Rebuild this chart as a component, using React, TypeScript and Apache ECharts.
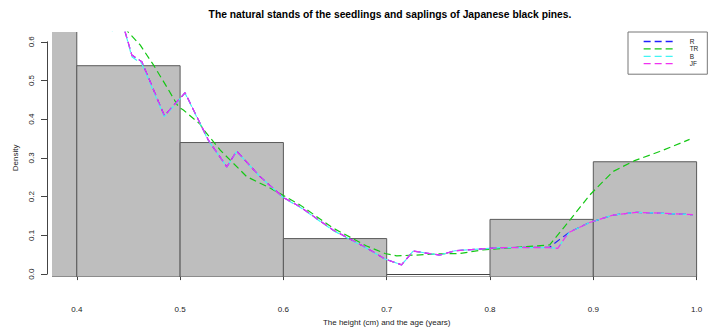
import React, { useEffect, useRef } from "react";
import * as echarts from "echarts";

const binEdges = [0.3, 0.4, 0.5, 0.6, 0.7, 0.8, 0.9, 1.0];
const binDensity = [8.58, 0.539, 0.343, 0.098, 0, 0.147, 0.294];

const xTicks = [0.4, 0.5, 0.6, 0.7, 0.8, 0.9, 1.0];
const yTicks = [0.0, 0.1, 0.2, 0.3, 0.4, 0.5, 0.6];

const jfX = [0.44, 0.4468, 0.4533, 0.4581, 0.463, 0.4848, 0.4871, 0.5048, 0.5274, 0.5452, 0.5548, 0.5774, 0.5999, 0.6161, 0.648, 0.6806, 0.6983, 0.7144, 0.7256, 0.7515, 0.766, 0.8095, 0.8578, 0.8656, 0.8723, 0.8773, 0.8965, 0.919, 0.9417, 0.9674, 0.9964];
const jfY = [0.68, 0.625, 0.566, 0.558, 0.549, 0.411, 0.418, 0.47, 0.349, 0.281, 0.321, 0.256, 0.203, 0.179, 0.12, 0.074, 0.046, 0.031, 0.066, 0.056, 0.067, 0.075, 0.075, 0.073, 0.099, 0.115, 0.139, 0.158, 0.165, 0.1625, 0.159];

const bX = [0.425, 0.434, 0.44, 0.4468, 0.4533, 0.458, 0.4628, 0.4846, 0.4871, 0.5048, 0.5274, 0.5452, 0.5548, 0.5774, 0.5999, 0.6161, 0.648, 0.6806, 0.6983, 0.7144, 0.7256, 0.7515, 0.766, 0.8095, 0.8578, 0.8656, 0.8723, 0.8773, 0.8965, 0.919, 0.9417, 0.9674, 0.9964];
const bY = [0.7, 0.623, 0.69, 0.625, 0.562, 0.553, 0.545, 0.409, 0.416, 0.469, 0.348, 0.281, 0.32, 0.256, 0.202, 0.178, 0.119, 0.073, 0.046, 0.031, 0.066, 0.056, 0.067, 0.075, 0.075, 0.073, 0.099, 0.115, 0.139, 0.158, 0.165, 0.1625, 0.159];

const rX = [0.44, 0.4468, 0.4533, 0.4581, 0.463, 0.4848, 0.4871, 0.5048, 0.5274, 0.5452, 0.5548, 0.5774, 0.5999, 0.6161, 0.648, 0.6806, 0.6983, 0.7144, 0.7256, 0.7515, 0.766, 0.8095, 0.8578, 0.8675, 0.8773, 0.8965, 0.919, 0.9417, 0.9674, 0.9964];
const rY = [0.68, 0.625, 0.566, 0.558, 0.549, 0.411, 0.418, 0.47, 0.349, 0.281, 0.321, 0.256, 0.203, 0.179, 0.12, 0.074, 0.046, 0.031, 0.066, 0.056, 0.067, 0.075, 0.076, 0.096, 0.115, 0.139, 0.158, 0.165, 0.1625, 0.159];

const trX = [0.44, 0.45, 0.4613, 0.4742, 0.4871, 0.4984, 0.5032, 0.5193, 0.5225, 0.5387, 0.5645, 0.587, 0.6044, 0.616, 0.648, 0.6806, 0.6983, 0.7096, 0.7289, 0.7515, 0.7708, 0.793, 0.8578, 0.8773, 0.8965, 0.919, 0.94, 0.9642, 0.9932];
const trY = [0.66, 0.624, 0.592, 0.541, 0.485, 0.434, 0.426, 0.39, 0.377, 0.324, 0.256, 0.227, 0.2015, 0.184, 0.125, 0.079, 0.06, 0.054, 0.056, 0.059, 0.06, 0.069, 0.082, 0.145, 0.209, 0.269, 0.297, 0.32, 0.351];

const seriesNames = ["R", "TR", "B", "JF"];
const seriesColors = ["#2020ff", "#14c814", "#40f4f4", "#f030f0"];

const FONT = "Liberation Sans, Arial, sans-serif";

function pairs(xs: number[], ys: number[]) {
  return xs.map((x, i) => [x, ys[i]]);
}

export default function App() {
  const ref = useRef<HTMLDivElement>(null);
  useEffect(() => {
    if (!ref.current) return;
    const chart = echarts.init(ref.current, undefined, { renderer: "svg" });
    const histData = binDensity.map((d, i) => [binEdges[i], binEdges[i + 1], d]);
    const lineData = [pairs(rX, rY), pairs(trX, trY), pairs(bX, bY), pairs(jfX, jfY)];

    chart.setOption({
      animation: false,
      backgroundColor: "#ffffff",
      textStyle: { fontFamily: FONT },
      title: {
        text: "The natural stands of the seedlings and saplings of Japanese black pines.",
        left: 385,
        top: 4,
        textAlign: "center",
        textStyle: { fontSize: 10.3, fontWeight: "bold", color: "#000", fontFamily: FONT },
      },
      legend: {
        orient: "vertical",
        left: 628,
        top: 32,
        padding: [6, 9, 7, 15],
        itemGap: 0.4,
        itemWidth: 30,
        itemHeight: 8,
        borderColor: "#777",
        borderWidth: 1,
        data: seriesNames,
        itemStyle: { color: "rgba(0,0,0,0)", borderWidth: 0, opacity: 0 },
        lineStyle: { width: 1.3 },
        textStyle: { fontSize: 6.5, color: "#222", padding: [0, 0, 0, 11], fontFamily: FONT },
      },
      grid: [
        { left: 52, right: 0, top: 32, bottom: 54 },
        { left: 76.8, right: 12.4, top: 41.8, bottom: 54 },
      ],
      xAxis: [
        { type: "value", gridIndex: 0, min: 0.376, max: 1.012, show: false },
        {
          type: "value",
          gridIndex: 1,
          min: 0.4,
          max: 1.0,
          interval: 0.1,
          offset: 14,
          axisLine: { show: true, lineStyle: { color: "#444", width: 1 } },
          axisTick: { show: true, length: 6, lineStyle: { color: "#444" } },
          splitLine: { show: false },
          axisLabel: {
            margin: 17,
            fontSize: 8,
            color: "#222",
            fontFamily: FONT,
            formatter: (v: number) => (xTicks.some((t) => Math.abs(t - v) < 1e-6) ? v.toFixed(1) : ""),
          },
          name: "The height (cm) and the age (years)",
          nameLocation: "middle",
          nameGap: 28,
          nameTextStyle: { fontSize: 8, color: "#222", fontFamily: FONT },
        },
      ],
      yAxis: [
        { type: "value", gridIndex: 0, min: 0, max: 0.625, show: false },
        {
          type: "value",
          gridIndex: 1,
          min: 0,
          max: 0.6,
          interval: 0.1,
          offset: 29.8,
          axisLine: { show: true, lineStyle: { color: "#444", width: 1 } },
          axisTick: { show: true, length: 6, lineStyle: { color: "#444" } },
          splitLine: { show: false },
          axisLabel: {
            margin: 12,
            rotate: 90,
            fontSize: 8,
            color: "#222",
            fontFamily: FONT,
            formatter: (v: number) => (yTicks.some((t) => Math.abs(t - v) < 1e-6) ? v.toFixed(1) : ""),
          },
          name: "Density",
          nameLocation: "middle",
          nameGap: 24,
          nameTextStyle: { fontSize: 8, color: "#222", fontFamily: FONT },
        },
      ],
      series: [
        {
          type: "custom",
          name: "hist",
          xAxisIndex: 0,
          yAxisIndex: 0,
          clip: true,
          silent: true,
          encode: { x: [0, 1], y: 2 },
          data: histData,
          renderItem: (params: any, api: any) => {
            const p0 = api.coord([api.value(0), api.value(2)]);
            const p1 = api.coord([api.value(1), 0]);
            const h = p1[1] - p0[1];
            return {
              type: "rect",
              shape: { x: p0[0], y: p0[1], width: p1[0] - p0[0], height: h },
              style: { fill: "#bebebe", stroke: h < 0.5 ? "#8a8a8a" : "#5a5a5a", lineWidth: 1 },
            };
          },
        },
        ...seriesNames.map((n, i) => ({
          type: "line",
          name: n,
          xAxisIndex: 0,
          yAxisIndex: 0,
          data: lineData[i],
          symbol: "none",
          showSymbol: false,
          clip: true,
          color: seriesColors[i],
          lineStyle: { color: seriesColors[i], width: 1.2, type: [7, 4] },
          z: 3 + i,
        })),
      ],
    });
    return () => chart.dispose();
  }, []);
  return <div ref={ref} style={{ width: 709, height: 331, position: "absolute", left: 0, top: 0 }} />;
}
